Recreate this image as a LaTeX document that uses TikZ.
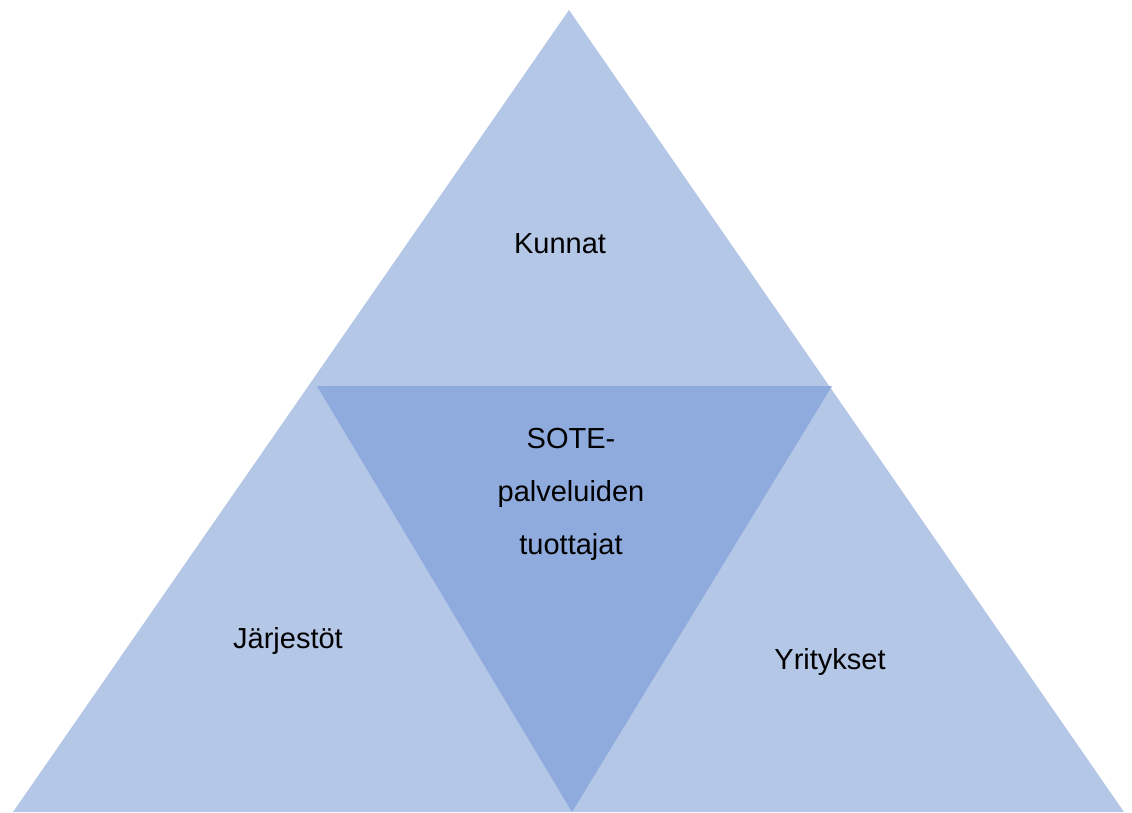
\documentclass[tikz,border=0pt]{standalone}
\usepackage{fontspec}
\setmainfont{Liberation Sans}
\definecolor{lightblue}{HTML}{B4C7E7}
\definecolor{midblue}{HTML}{8FAADC}
\begin{document}
\begin{tikzpicture}[x=1pt,y=-1pt,
  lbl/.style={font=\fontsize{29}{54}\selectfont, inner sep=0pt, anchor=base, align=center}]
\useasboundingbox (0,0) rectangle (1132,812);
\fill[white] (0,0) rectangle (1132,812);
\coordinate (apex) at (569,10);
\coordinate (bl) at (13,812);
\coordinate (br) at (1124,812);
\coordinate (ml) at (317,386);
\coordinate (mr) at (832,386);
\coordinate (mb) at (572,812);
\fill[lightblue] (apex) -- (br) -- (bl) -- cycle;
\fill[midblue] (ml) -- (mr) -- (mb) -- cycle;
\node[lbl] (kunnat) at (560,253) {Kunnat};
\node[lbl] (sote1) at (571,448) {SOTE-};
\node[lbl] (sote2) at (571,501) {palveluiden};
\node[lbl] (sote3) at (571,554) {tuottajat};
\node[lbl] (jarj) at (288,648) {Järjestöt};
\node[lbl] (yrit) at (830,669) {Yritykset};
\end{tikzpicture}
\end{document}
